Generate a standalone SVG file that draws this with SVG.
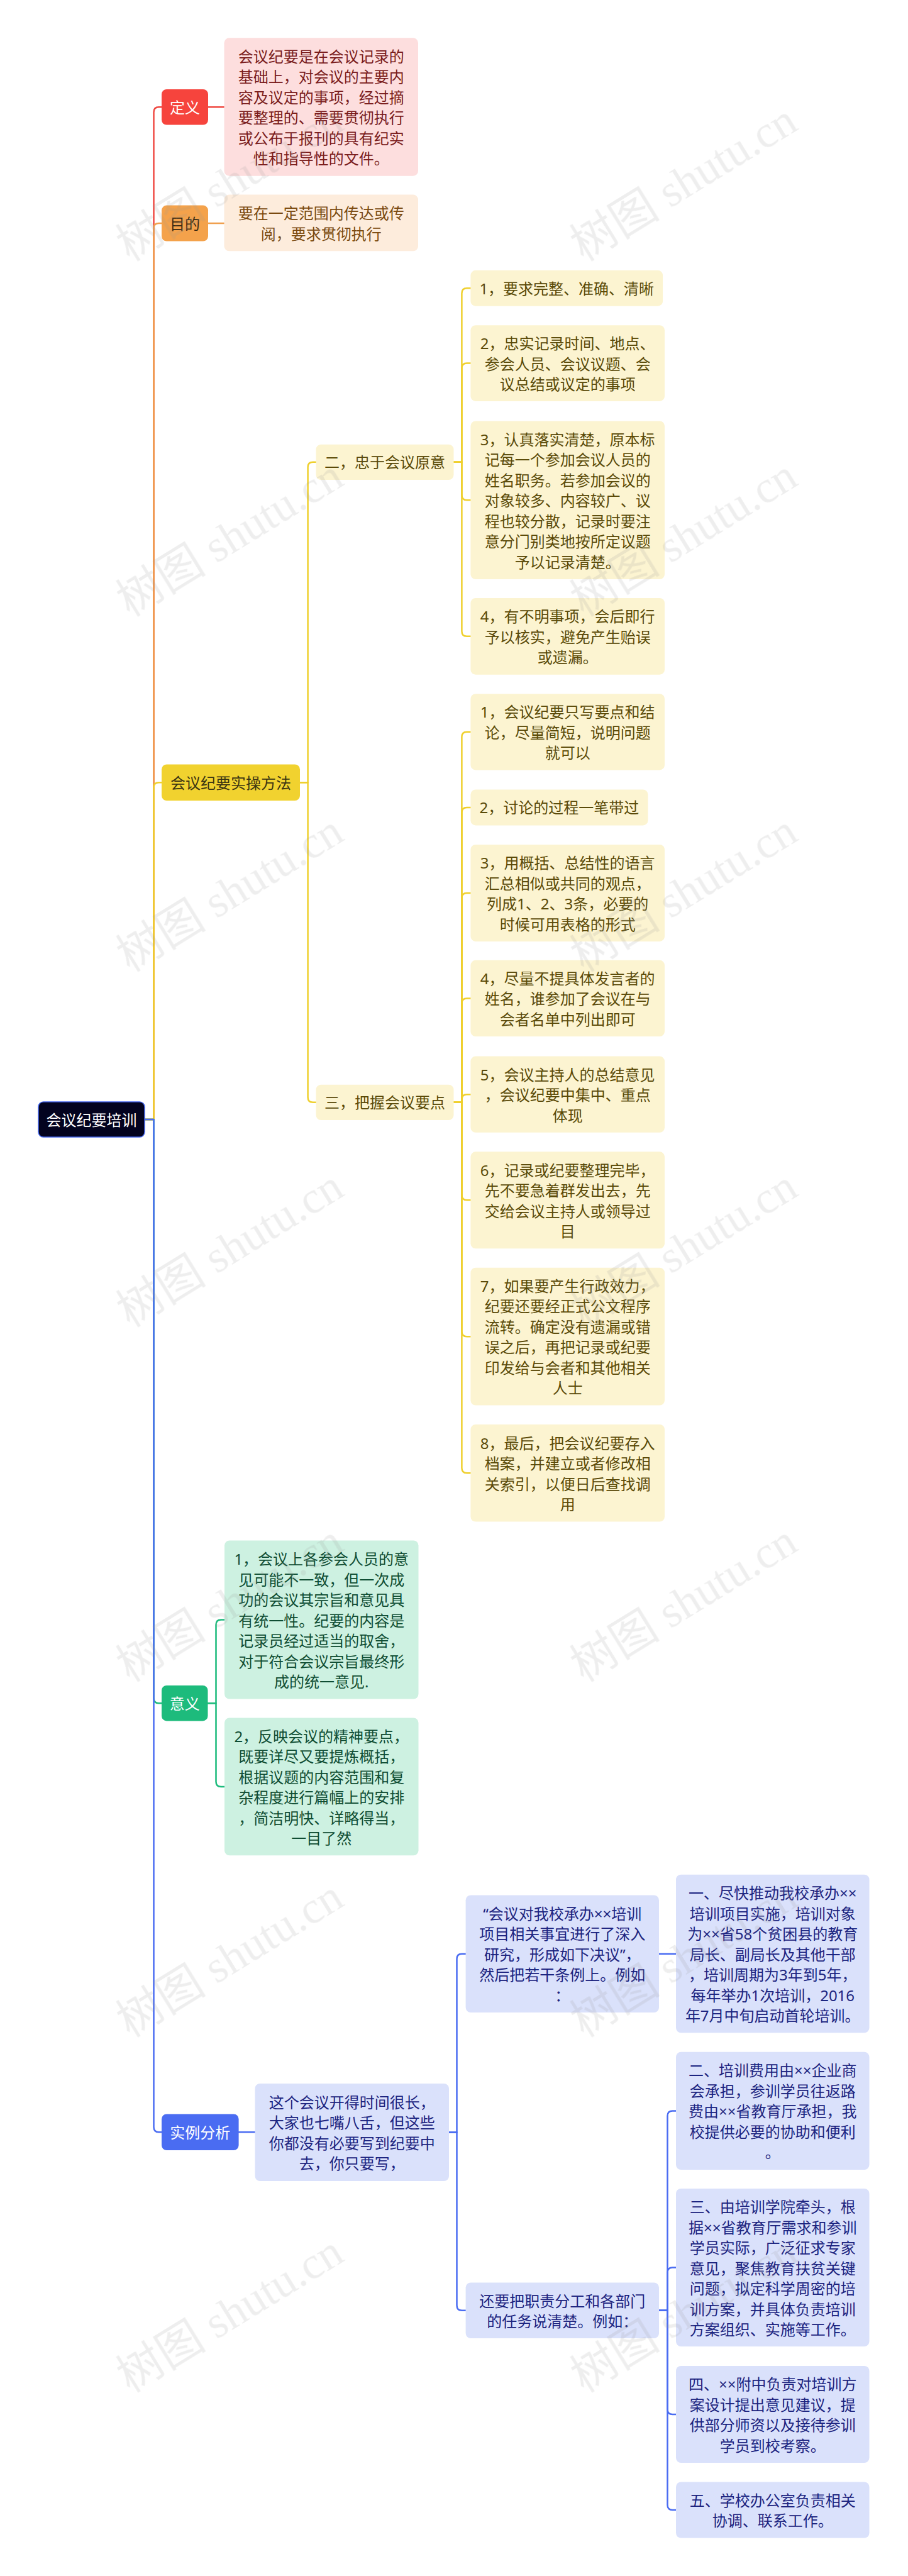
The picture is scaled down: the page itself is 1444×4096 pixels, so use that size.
<svg xmlns="http://www.w3.org/2000/svg" width="1444" height="4096" viewBox="0 0 1444 4096">
<style>
text{font-family:"Noto Sans","Noto Sans CJK SC",sans-serif;font-size:24px;text-anchor:middle;dominant-baseline:central}
.c path{fill:none;stroke-width:2.5;stroke-linejoin:round;stroke-linecap:round}
.red{stroke:#ef4a43}.org{stroke:#f0a04e}.yel{stroke:#efd02e}.grn{stroke:#1dbb7c}.blu{stroke:#4a6cf2}
.wm{font-family:"Liberation Serif","Noto Sans CJK SC",serif;font-size:72px;fill:#999;opacity:0.4}
</style>
<rect width="1444" height="4096" fill="#fff"/>
<g id="connectors" class="c">
<path class="red" d="M230,1780 H244.5 V178.25 Q244.5,170.25 252.5,170.25 H257"/>
<path class="red" d="M331,170.25 H356.5"/>
<path class="org" d="M230,1780 H244.5 V363 Q244.5,355 252.5,355 H257"/>
<path class="org" d="M331,355 H356.5"/>
<path class="yel" d="M230,1780 H244.5 V1252.2 Q244.5,1244.2 252.5,1244.2 H257"/>
<path class="grn" d="M230,1780 H244.5 V2700.2 Q244.5,2708.2 252.5,2708.2 H257"/>
<path class="blu" d="M230,1780 H244.5 V3382.25 Q244.5,3390.25 252.5,3390.25 H257"/>
<path class="yel" d="M477,1244.2 H489.6 V742.85 Q489.6,734.85 497.6,734.85 H502.5"/>
<path class="yel" d="M477,1244.2 H489.6 V1744.85 Q489.6,1752.85 497.6,1752.85 H502.5"/>
<path class="yel" d="M721.4,734.85 H734.4 V466.25 Q734.4,458.25 742.4,458.25 H748.4"/>
<path class="yel" d="M721.4,734.85 H734.4 V585.55 Q734.4,577.55 742.4,577.55 H748.4"/>
<path class="yel" d="M721.4,734.85 H734.4 V787.25 Q734.4,795.25 742.4,795.25 H748.4"/>
<path class="yel" d="M721.4,734.85 H734.4 V1003.8 Q734.4,1011.8 742.4,1011.8 H748.4"/>
<path class="yel" d="M721.4,1752.85 H734.4 V1171.8 Q734.4,1163.8 742.4,1163.8 H748.4"/>
<path class="yel" d="M721.4,1752.85 H734.4 V1291.95 Q734.4,1283.95 742.4,1283.95 H748.4"/>
<path class="yel" d="M721.4,1752.85 H734.4 V1427.9 Q734.4,1419.9 742.4,1419.9 H748.4"/>
<path class="yel" d="M721.4,1752.85 H734.4 V1595.4 Q734.4,1587.4 742.4,1587.4 H748.4"/>
<path class="yel" d="M721.4,1752.85 H734.4 V1748.2 Q734.4,1740.2 742.4,1740.2 H748.4"/>
<path class="yel" d="M721.4,1752.85 H734.4 V1900.3 Q734.4,1908.3 742.4,1908.3 H748.4"/>
<path class="yel" d="M721.4,1752.85 H734.4 V2117.15 Q734.4,2125.15 742.4,2125.15 H748.4"/>
<path class="yel" d="M721.4,1752.85 H734.4 V2334.3 Q734.4,2342.3 742.4,2342.3 H748.4"/>
<path class="grn" d="M330.5,2708.2 H343.5 V2583.55 Q343.5,2575.55 351.5,2575.55 H357"/>
<path class="grn" d="M330.5,2708.2 H343.5 V2832.9 Q343.5,2840.9 351.5,2840.9 H357"/>
<path class="blu" d="M379.6,3390.25 H405.5"/>
<path class="blu" d="M714,3390.5 H726.5 V3114.75 Q726.5,3106.75 734.5,3106.75 H740.6"/>
<path class="blu" d="M714,3390.5 H726.5 V3665.75 Q726.5,3673.75 734.5,3673.75 H740.6"/>
<path class="blu" d="M1048,3106.75 H1075"/>
<path class="blu" d="M1048,3673.75 H1061.5 V3364.4 Q1061.5,3356.4 1069.5,3356.4 H1075"/>
<path class="blu" d="M1048,3673.75 H1061.5 V3613.5 Q1061.5,3605.5 1069.5,3605.5 H1075"/>
<path class="blu" d="M1048,3673.75 H1061.5 V3831 Q1061.5,3839 1069.5,3839 H1075"/>
<path class="blu" d="M1048,3673.75 H1061.5 V3983 Q1061.5,3991 1069.5,3991 H1075"/>
</g>
<g id="root"><rect x="61" y="1752" width="169" height="56" rx="8" fill="#03031f" stroke="#4466ee" stroke-width="1.5"/><text x="145.5" y="1780" fill="#fff">会议纪要培训</text></g>
<g id="n-def"><rect x="257" y="142" width="74" height="56.5" rx="8" fill="#f6443d"/><text x="294" y="170.25" fill="#fff">定义</text></g>
<g id="n-def-t"><rect x="356.5" y="60.3" width="308.5" height="219.4" rx="8" fill="#fddede"/><text fill="#7a1c1c"><tspan x="510.75" y="88.75">会议纪要是在会议记录的</tspan><tspan x="510.75" y="121.25">基础上，对会议的主要内</tspan><tspan x="510.75" y="153.75">容及议定的事项，经过摘</tspan><tspan x="510.75" y="186.25">要整理的、需要贯彻执行</tspan><tspan x="510.75" y="218.75">或公布于报刊的具有纪实</tspan><tspan x="510.75" y="251.25">性和指导性的文件。</tspan></text></g>
<g id="n-aim"><rect x="257" y="326.6" width="74" height="56.9" rx="8" fill="#f4a24b"/><text x="294" y="355" fill="#3a2a12">目的</text></g>
<g id="n-aim-t"><rect x="356.5" y="309.6" width="308.5" height="89.7" rx="8" fill="#fdecdc"/><text fill="#7a4a10"><tspan x="510.75" y="338.2">要在一定范围内传达或传</tspan><tspan x="510.75" y="370.7">阅，要求贯彻执行</tspan></text></g>
<g id="n-method"><rect x="257" y="1215.4" width="220" height="57.6" rx="8" fill="#f1d22f"/><text x="367" y="1244.2" fill="#3b3512">会议纪要实操方法</text></g>
<g id="n-2"><rect x="502.5" y="706.7" width="219" height="56.3" rx="8" fill="#fcf4d1"/><text x="612" y="734.85" fill="#5a4a08">二，忠于会议原意</text></g>
<g id="n-3"><rect x="502.5" y="1724.7" width="219" height="56.3" rx="8" fill="#fcf4d1"/><text x="612" y="1752.85" fill="#5a4a08">三，把握会议要点</text></g>
<g id="i2-1"><rect x="748.4" y="429.8" width="305.7" height="56.9" rx="8" fill="#fcf4d1"/><text x="901.25" y="458.25" fill="#5a4a08">1，要求完整、准确、清晰</text></g>
<g id="i2-2"><rect x="748.4" y="517.2" width="308.6" height="120.7" rx="8" fill="#fcf4d1"/><text fill="#5a4a08"><tspan x="902.7" y="545.05">2，忠实记录时间、地点、</tspan><tspan x="902.7" y="577.55">参会人员、会议议题、会</tspan><tspan x="902.7" y="610.05">议总结或议定的事项</tspan></text></g>
<g id="i2-3"><rect x="748.4" y="669.5" width="308.6" height="251.5" rx="8" fill="#fcf4d1"/><text fill="#5a4a08"><tspan x="902.7" y="697.75">3，认真落实清楚，原本标</tspan><tspan x="902.7" y="730.25">记每一个参加会议人员的</tspan><tspan x="902.7" y="762.75">姓名职务。若参加会议的</tspan><tspan x="902.7" y="795.25">对象较多、内容较广、议</tspan><tspan x="902.7" y="827.75">程也较分散，记录时要注</tspan><tspan x="902.7" y="860.25">意分门别类地按所定议题</tspan><tspan x="902.7" y="892.75">予以记录清楚。</tspan></text></g>
<g id="i2-4"><rect x="748.4" y="950.9" width="308.6" height="121.8" rx="8" fill="#fcf4d1"/><text fill="#5a4a08"><tspan x="902.7" y="979.3">4，有不明事项，会后即行</tspan><tspan x="902.7" y="1011.8">予以核实，避免产生贻误</tspan><tspan x="902.7" y="1044.3">或遗漏。</tspan></text></g>
<g id="i3-1"><rect x="748.4" y="1103.2" width="308.6" height="121.2" rx="8" fill="#fcf4d1"/><text fill="#5a4a08"><tspan x="902.7" y="1131.3">1，会议纪要只写要点和结</tspan><tspan x="902.7" y="1163.8">论，尽量简短，说明问题</tspan><tspan x="902.7" y="1196.3">就可以</tspan></text></g>
<g id="i3-2"><rect x="748.4" y="1255.5" width="282.1" height="56.9" rx="8" fill="#fcf4d1"/><text x="889.45" y="1283.95" fill="#5a4a08">2，讨论的过程一笔带过</text></g>
<g id="i3-3"><rect x="748.4" y="1342.9" width="308.6" height="154" rx="8" fill="#fcf4d1"/><text fill="#5a4a08"><tspan x="902.7" y="1371.15">3，用概括、总结性的语言</tspan><tspan x="902.7" y="1403.65">汇总相似或共同的观点，</tspan><tspan x="902.7" y="1436.15">列成1、2、3条，必要的</tspan><tspan x="902.7" y="1468.65">时候可用表格的形式</tspan></text></g>
<g id="i3-4"><rect x="748.4" y="1526.8" width="308.6" height="121.2" rx="8" fill="#fcf4d1"/><text fill="#5a4a08"><tspan x="902.7" y="1554.9">4，尽量不提具体发言者的</tspan><tspan x="902.7" y="1587.4">姓名，谁参加了会议在与</tspan><tspan x="902.7" y="1619.9">会者名单中列出即可</tspan></text></g>
<g id="i3-5"><rect x="748.4" y="1679.6" width="308.6" height="121.2" rx="8" fill="#fcf4d1"/><text fill="#5a4a08"><tspan x="902.7" y="1707.7">5，会议主持人的总结意见</tspan><tspan x="902.7" y="1740.2">，会议纪要中集中、重点</tspan><tspan x="902.7" y="1772.7">体现</tspan></text></g>
<g id="i3-6"><rect x="748.4" y="1831.3" width="308.6" height="154" rx="8" fill="#fcf4d1"/><text fill="#5a4a08"><tspan x="902.7" y="1859.55">6，记录或纪要整理完毕，</tspan><tspan x="902.7" y="1892.05">先不要急着群发出去，先</tspan><tspan x="902.7" y="1924.55">交给会议主持人或领导过</tspan><tspan x="902.7" y="1957.05">目</tspan></text></g>
<g id="i3-7"><rect x="748.4" y="2015.7" width="308.6" height="218.9" rx="8" fill="#fcf4d1"/><text fill="#5a4a08"><tspan x="902.7" y="2043.9">7，如果要产生行政效力，</tspan><tspan x="902.7" y="2076.4">纪要还要经正式公文程序</tspan><tspan x="902.7" y="2108.9">流转。确定没有遗漏或错</tspan><tspan x="902.7" y="2141.4">误之后，再把记录或纪要</tspan><tspan x="902.7" y="2173.9">印发给与会者和其他相关</tspan><tspan x="902.7" y="2206.4">人士</tspan></text></g>
<g id="i3-8"><rect x="748.4" y="2265" width="308.6" height="154.6" rx="8" fill="#fcf4d1"/><text fill="#5a4a08"><tspan x="902.7" y="2293.55">8，最后，把会议纪要存入</tspan><tspan x="902.7" y="2326.05">档案，并建立或者修改相</tspan><tspan x="902.7" y="2358.55">关索引，以便日后查找调</tspan><tspan x="902.7" y="2391.05">用</tspan></text></g>
<g id="n-mean"><rect x="257" y="2680" width="73.5" height="56.4" rx="8" fill="#1dbb7c"/><text x="293.75" y="2708.2" fill="#fff">意义</text></g>
<g id="m-1"><rect x="357" y="2449.5" width="308.5" height="252.1" rx="8" fill="#cdf1e1"/><text fill="#0f4d33"><tspan x="511.25" y="2478.05">1，会议上各参会人员的意</tspan><tspan x="511.25" y="2510.55">见可能不一致，但一次成</tspan><tspan x="511.25" y="2543.05">功的会议其宗旨和意见具</tspan><tspan x="511.25" y="2575.55">有统一性。纪要的内容是</tspan><tspan x="511.25" y="2608.05">记录员经过适当的取舍，</tspan><tspan x="511.25" y="2640.55">对于符合会议宗旨最终形</tspan><tspan x="511.25" y="2673.05">成的统一意见.</tspan></text></g>
<g id="m-2"><rect x="357" y="2731.5" width="308.5" height="218.8" rx="8" fill="#cdf1e1"/><text fill="#0f4d33"><tspan x="511.25" y="2759.65">2，反映会议的精神要点，</tspan><tspan x="511.25" y="2792.15">既要详尽又要提炼概括，</tspan><tspan x="511.25" y="2824.65">根据议题的内容范围和复</tspan><tspan x="511.25" y="2857.15">杂程度进行篇幅上的安排</tspan><tspan x="511.25" y="2889.65">，简洁明快、详略得当，</tspan><tspan x="511.25" y="2922.15">一目了然</tspan></text></g>
<g id="n-case"><rect x="257" y="3361.5" width="122.6" height="57.5" rx="8" fill="#4a6cf2"/><text x="318.3" y="3390.25" fill="#fff">实例分析</text></g>
<g id="c-a"><rect x="405.5" y="3313" width="308.5" height="155" rx="8" fill="#dae1fb"/><text fill="#1c2480"><tspan x="559.75" y="3341.75">这个会议开得时间很长，</tspan><tspan x="559.75" y="3374.25">大家也七嘴八舌，但这些</tspan><tspan x="559.75" y="3406.75">你都没有必要写到纪要中</tspan><tspan x="559.75" y="3439.25">去，你只要写，</tspan></text></g>
<g id="c-b"><rect x="740.6" y="3013.5" width="307.4" height="186.5" rx="8" fill="#dae1fb"/><text fill="#1c2480"><tspan x="894.3" y="3041.75">“会议对我校承办××培训</tspan><tspan x="894.3" y="3074.25">项目相关事宜进行了深入</tspan><tspan x="894.3" y="3106.75">研究，形成如下决议”，</tspan><tspan x="894.3" y="3139.25">然后把若干条例上。例如</tspan><tspan x="894.3" y="3171.75">：</tspan></text></g>
<g id="c-c"><rect x="740.6" y="3629.5" width="307.4" height="88.5" rx="8" fill="#dae1fb"/><text fill="#1c2480"><tspan x="894.3" y="3657.5">还要把职责分工和各部门</tspan><tspan x="894.3" y="3690">的任务说清楚。例如：</tspan></text></g>
<g id="r-1"><rect x="1075" y="2980.7" width="307.5" height="251.6" rx="8" fill="#dae1fb"/><text fill="#1c2480"><tspan x="1228.75" y="3009">一、尽快推动我校承办××</tspan><tspan x="1228.75" y="3041.5">培训项目实施，培训对象</tspan><tspan x="1228.75" y="3074">为××省58个贫困县的教育</tspan><tspan x="1228.75" y="3106.5">局长、副局长及其他干部</tspan><tspan x="1228.75" y="3139">，培训周期为3年到5年，</tspan><tspan x="1228.75" y="3171.5">每年举办1次培训，2016</tspan><tspan x="1228.75" y="3204">年7月中旬启动首轮培训。</tspan></text></g>
<g id="r-2"><rect x="1075" y="3262.8" width="307.5" height="187.2" rx="8" fill="#dae1fb"/><text fill="#1c2480"><tspan x="1228.75" y="3291.4">二、培训费用由××企业商</tspan><tspan x="1228.75" y="3323.9">会承担，参训学员往返路</tspan><tspan x="1228.75" y="3356.4">费由××省教育厅承担，我</tspan><tspan x="1228.75" y="3388.9">校提供必要的协助和便利</tspan><tspan x="1228.75" y="3421.4">。</tspan></text></g>
<g id="r-3"><rect x="1075" y="3480" width="307.5" height="251" rx="8" fill="#dae1fb"/><text fill="#1c2480"><tspan x="1228.75" y="3508">三、由培训学院牵头，根</tspan><tspan x="1228.75" y="3540.5">据××省教育厅需求和参训</tspan><tspan x="1228.75" y="3573">学员实际，广泛征求专家</tspan><tspan x="1228.75" y="3605.5">意见，聚焦教育扶贫关键</tspan><tspan x="1228.75" y="3638">问题，拟定科学周密的培</tspan><tspan x="1228.75" y="3670.5">训方案，并具体负责培训</tspan><tspan x="1228.75" y="3703">方案组织、实施等工作。</tspan></text></g>
<g id="r-4"><rect x="1075" y="3762" width="307.5" height="154" rx="8" fill="#dae1fb"/><text fill="#1c2480"><tspan x="1228.75" y="3790.25">四、××附中负责对培训方</tspan><tspan x="1228.75" y="3822.75">案设计提出意见建议，提</tspan><tspan x="1228.75" y="3855.25">供部分师资以及接待参训</tspan><tspan x="1228.75" y="3887.75">学员到校考察。</tspan></text></g>
<g id="r-5"><rect x="1075" y="3946.4" width="307.5" height="89.2" rx="8" fill="#dae1fb"/><text fill="#1c2480"><tspan x="1228.75" y="3974.75">五、学校办公室负责相关</tspan><tspan x="1228.75" y="4007.25">协调、联系工作。</tspan></text></g>
<g id="watermarks" class="wm">
<text class="wm" x="365.5" y="290.4" transform="rotate(-31.6 365.5 290.4)">树图 shutu.cn</text>
<text class="wm" x="1087.5" y="290.4" transform="rotate(-31.6 1087.5 290.4)">树图 shutu.cn</text>
<text class="wm" x="365.5" y="855.1" transform="rotate(-31.6 365.5 855.1)">树图 shutu.cn</text>
<text class="wm" x="1087.5" y="855.1" transform="rotate(-31.6 1087.5 855.1)">树图 shutu.cn</text>
<text class="wm" x="365.5" y="1419.8" transform="rotate(-31.6 365.5 1419.8)">树图 shutu.cn</text>
<text class="wm" x="1087.5" y="1419.8" transform="rotate(-31.6 1087.5 1419.8)">树图 shutu.cn</text>
<text class="wm" x="365.5" y="1984.5" transform="rotate(-31.6 365.5 1984.5)">树图 shutu.cn</text>
<text class="wm" x="1087.5" y="1984.5" transform="rotate(-31.6 1087.5 1984.5)">树图 shutu.cn</text>
<text class="wm" x="365.5" y="2549.2" transform="rotate(-31.6 365.5 2549.2)">树图 shutu.cn</text>
<text class="wm" x="1087.5" y="2549.2" transform="rotate(-31.6 1087.5 2549.2)">树图 shutu.cn</text>
<text class="wm" x="365.5" y="3113.9" transform="rotate(-31.6 365.5 3113.9)">树图 shutu.cn</text>
<text class="wm" x="1087.5" y="3113.9" transform="rotate(-31.6 1087.5 3113.9)">树图 shutu.cn</text>
<text class="wm" x="365.5" y="3678.6" transform="rotate(-31.6 365.5 3678.6)">树图 shutu.cn</text>
<text class="wm" x="1087.5" y="3678.6" transform="rotate(-31.6 1087.5 3678.6)">树图 shutu.cn</text>
</g>
</svg>
